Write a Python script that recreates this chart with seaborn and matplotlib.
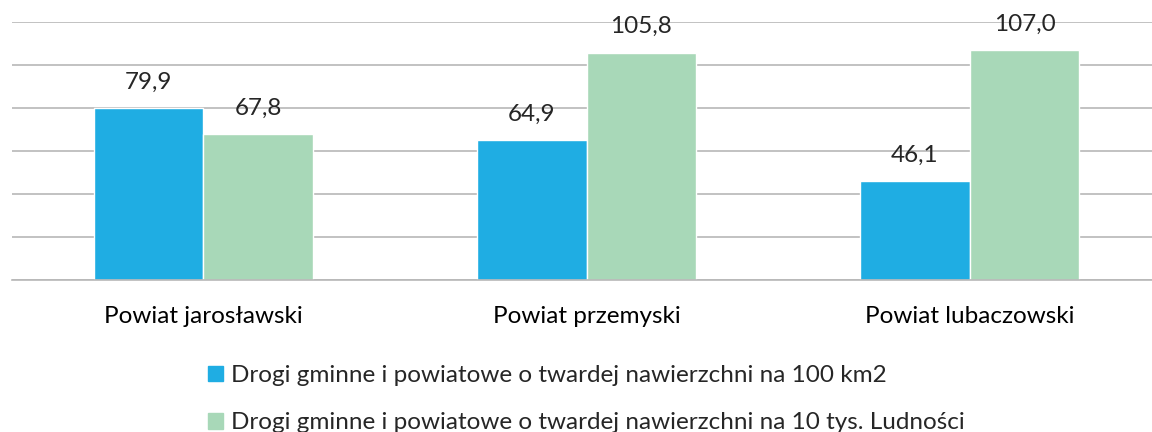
import pandas as pd
import matplotlib
matplotlib.use("Agg")
import matplotlib.pyplot as plt
import seaborn as sns

# data
powiaty = ["Powiat jarosławski", "Powiat przemyski", "Powiat lubaczowski"]
na_100km2 = [79.9, 64.9, 46.1]
na_10tys = [67.8, 105.8, 107.0]
serie = ["Drogi gminne i powiatowe o twardej nawierzchni na 100 km2",
         "Drogi gminne i powiatowe o twardej nawierzchni na 10 tys. Ludności"]
kolory = ["#1FADE3", "#A8D8B8"]

df = pd.DataFrame({
    "powiat": powiaty * 2,
    "wartosc": na_100km2 + na_10tys,
    "seria": [serie[0]] * 3 + [serie[1]] * 3,
})

sns.set_style("white")
plt.rcParams["font.family"] = ["Lato", "DejaVu Sans"]

fig = plt.figure(figsize=(11.52, 4.32), dpi=100)
ax = fig.add_axes([11.5 / 1152, 152 / 432, 1150 / 1152, 258 / 432])

sns.barplot(data=df, x="powiat", y="wartosc", hue="seria", palette=kolory,
            width=0.572, gap=0, saturation=1, ax=ax, legend=False)

ax.set_ylim(0, 120)
ax.set_xlim(-0.5, 2.5)
ax.set_yticks(range(0, 121, 20))
ax.yaxis.grid(True, color="#B8B8B8", linewidth=1.2)
ax.set_axisbelow(True)
ax.set_yticklabels([])
ax.tick_params(axis="y", length=0)
for s in ["top", "right", "left"]:
    ax.spines[s].set_visible(False)
ax.spines["bottom"].set_color("#B8B8B8")
ax.spines["bottom"].set_linewidth(1.2)

# category boundary ticks
ax.set_xticks([-0.5, 0.5, 1.5, 2.5])
ax.set_xticklabels([])
ax.tick_params(axis="x", length=6, color="#B8B8B8", width=1.2, direction="out")
for i, name in enumerate(powiaty):
    ax.annotate(name, (i, 0), xytext=(0, -26), textcoords="offset points",
                ha="center", va="center", fontsize=17.5, color="#000000")
ax.set_xlabel("")
ax.set_ylabel("")

for cont in ax.containers:
    for b in cont:
        lab = f"{b.get_height():.1f}".replace(".", ",")
        ax.annotate(lab, (b.get_x() + b.get_width() / 2, b.get_height()),
                    xytext=(0, 18.5), textcoords="offset points",
                    ha="center", va="center", fontsize=17.5, clip_on=False)

handles = [plt.Rectangle((0, 0), 1, 1, color=c) for c in kolory]
fig.legend(handles, serie, loc="upper left", bbox_to_anchor=(208 / 1152, 1 - 365 / 432),
           frameon=False, fontsize=17.5, handlelength=0.62, handleheight=0.62,
           handletextpad=0.33, labelspacing=1.09, borderaxespad=0, borderpad=0)

fig.savefig("out.png", dpi=100)
